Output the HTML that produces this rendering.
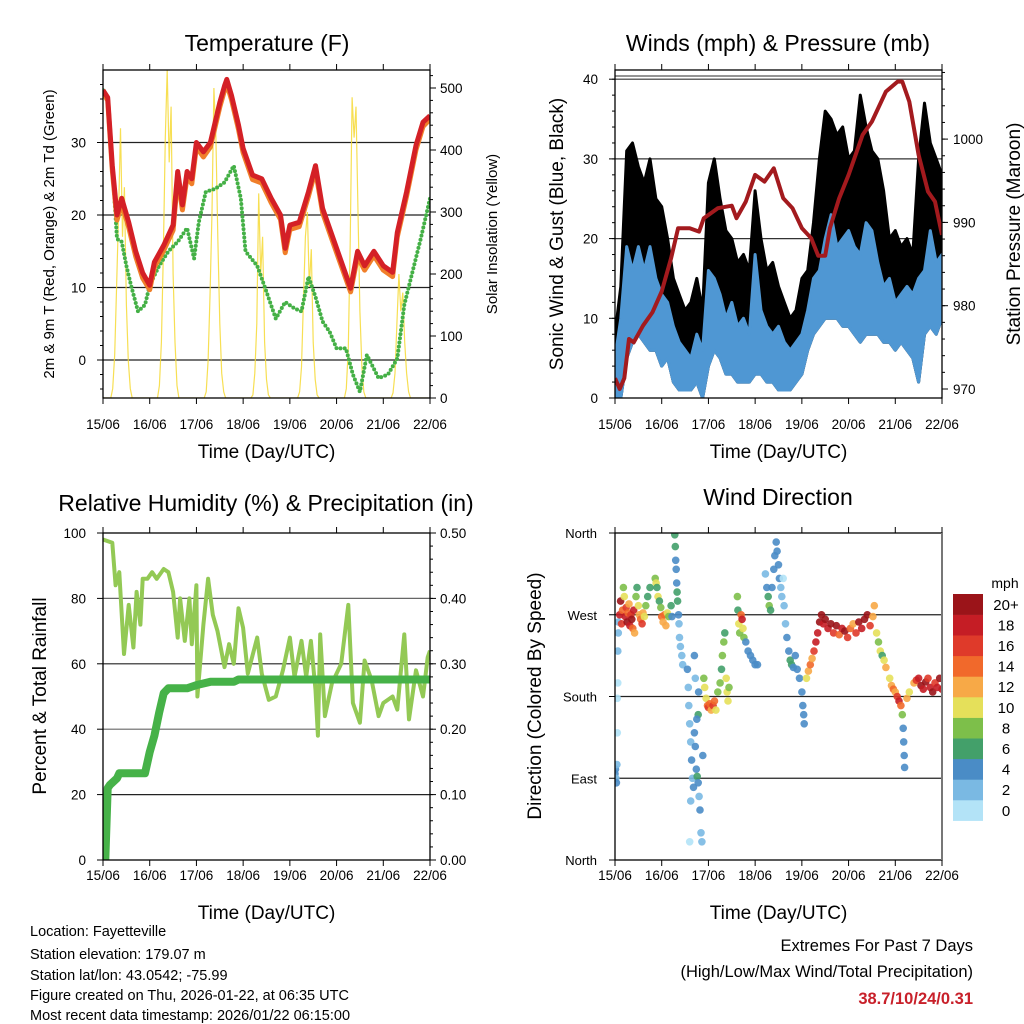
<!DOCTYPE html>
<html><head><meta charset="utf-8"><style>
html,body{margin:0;padding:0;background:#fff}
svg{display:block;font-family:"Liberation Sans",sans-serif}
</style></head><body>
<svg id="c" width="1024" height="1024" viewBox="0 0 1024 1024" xmlns="http://www.w3.org/2000/svg">
<defs>
<clipPath id="cp1"><rect x="103" y="70" width="327" height="328"/></clipPath>
<clipPath id="cp2"><rect x="615" y="70" width="327" height="328"/></clipPath>
<clipPath id="cp3"><rect x="103" y="533" width="327" height="327"/></clipPath>
<clipPath id="cp4"><rect x="615" y="533" width="327" height="327"/></clipPath>
</defs>
<rect width="1024" height="1024" fill="#fff"/>
<text x="267" y="51" font-size="23" text-anchor="middle">Temperature (F)</text>
<text x="778" y="51" font-size="23" text-anchor="middle">Winds (mph) &amp; Pressure (mb)</text>
<text x="266" y="511" font-size="23" text-anchor="middle">Relative Humidity (%) &amp; Precipitation (in)</text>
<text x="778" y="505" font-size="23" text-anchor="middle">Wind Direction</text>
<g id="g1"></g>
<g id="g2"></g>
<g id="g3"></g>
<g id="g4"></g>
<g font-size="14.5">
<text x="30" y="936">Location: Fayetteville</text>
<text x="30" y="959">Station elevation: 179.07 m</text>
<text x="30" y="980">Station lat/lon: 43.0542; -75.99</text>
<text x="30" y="1000">Figure created on Thu, 2026-01-22, at 06:35 UTC</text>
<text x="30" y="1020">Most recent data timestamp: 2026/01/22 06:15:00</text>
</g>
<g font-size="16.5" text-anchor="end">
<text x="973" y="951">Extremes For Past 7 Days</text>
<text x="973" y="977">(High/Low/Max Wind/Total Precipitation)</text>
<text x="973" y="1004" fill="#c8202a" font-weight="bold">38.7/10/24/0.31</text>
</g>
</svg>
<script>
// ---------- data ----------
const dayLabels=["15/06","16/06","17/06","18/06","19/06","20/06","21/06","22/06"];
const tempDays=[0,0.1,0.2,0.3,0.4,0.55,0.7,0.85,1.0,1.1,1.3,1.5,1.6,1.7,1.8,1.9,2.0,2.15,2.3,2.5,2.6,2.65,2.75,2.9,3.0,3.2,3.4,3.6,3.8,3.9,4.0,4.2,4.4,4.55,4.7,5.0,5.3,5.45,5.6,5.8,6.0,6.2,6.3,6.5,6.7,6.85,7.0];
const temp2m=[37.2,36.2,26.8,20,22.3,19,15,12,10.3,13.5,15.8,18.6,26,21.4,26,25,30,28.7,30,35.5,37.8,38.7,36.5,32.4,29.2,25.5,25,22.3,20,15.4,18.6,19,23.2,26.8,20.9,15.4,9.9,15,13,15,13,12.1,17.6,23.2,29.6,32.8,33.7];
const temp9m=[36.9,35.8,26.2,19.3,21.6,18.3,14.3,11.3,9.7,12.8,15.1,17.9,25.2,20.7,25.3,24.3,29.4,28,29.4,34.9,37.2,38.1,35.9,31.8,28.6,24.9,24.4,21.7,19.4,14.8,18,18.4,22.6,26.2,20.3,14.8,9.4,14.3,12.4,14.4,12.4,11.5,17,22.6,29,32.2,33.2];
const tdDays=[0,0.1,0.2,0.3,0.4,0.5,0.6,0.75,0.9,1.0,1.2,1.4,1.6,1.8,1.95,2.05,2.2,2.4,2.6,2.8,2.95,3.05,3.3,3.5,3.7,3.9,4.1,4.25,4.4,4.55,4.7,4.85,5.0,5.2,5.35,5.5,5.65,5.9,6.1,6.3,6.45,6.6,6.8,7.0];
const tdF=[37.2,36,26.8,16.7,16.3,13,10.3,6.7,7.6,10.3,13,15,16.3,18.2,14,19,23.2,23.6,24.5,26.8,22.3,15,13,9.4,5.7,8,7.1,6.7,11.5,8.7,5.3,3.9,1.6,1.6,-2,-4.4,0.7,-2.5,-2,0.2,7.6,11.5,16.7,22.3];
const solarDay0=[0,0,0,0,0,15,70,180,300,435,260,340,150,60,15,0,0,0,0,0,0,0,0,0];
const solarDay1=[0,0,0,0,0,20,90,230,420,529,380,470,200,90,20,0,0,0,0,0,0,0,0,0];
const solarDay2=[0,0,0,0,0,10,60,170,300,500,420,260,120,40,10,0,0,0,0,0,0,0,0,0];
const solarDay3=[0,0,0,0,0,5,40,120,330,200,260,90,30,5,0,0,0,0,0,0,0,0,0,0];
const solarDay4=[0,0,0,0,0,10,50,160,260,300,180,240,90,30,5,0,0,0,0,0,0,0,0,0];
const solarDay5=[0,0,0,0,0,15,80,250,485,420,470,300,140,50,10,0,0,0,0,0,0,0,0,0];
const solarDay6=[0,0,0,0,0,8,40,120,200,140,170,90,40,10,0,0,0,0,0,0,0,0,0,0];
const windDays=[0,0.125,0.25,0.375,0.5,0.625,0.75,0.875,1,1.125,1.25,1.375,1.5,1.625,1.75,1.875,2,2.125,2.25,2.375,2.5,2.625,2.75,2.875,3,3.125,3.25,3.375,3.5,3.625,3.75,3.875,4,4.125,4.25,4.375,4.5,4.625,4.75,4.875,5,5.125,5.25,5.375,5.5,5.625,5.75,5.875,6,6.125,6.25,6.375,6.5,6.625,6.75,6.875,7];
const windHi=[5,10,19,16,19,16,19,15,13,12,9,7,6,5,8,6,16,15,13,10,12,9,10,8,18,11,9,8,9,7,6,7,8,11,15,16,20,23,19,20,21,19,18,22,21,17,14,15,12,13,14,13,15,16,21,17,18];
const windLo=[0,0,5,7,8,7,6,6,4,5,2,1,1,1,2,0,4,6,5,3,3,2,2,2,3,3,2,2,1,1,1,2,3,6,8,9,10,10,10,9,9,8,7,8,8,8,7,7,6,7,6,5,2,8,9,8,10];
const gustHi=[8,14,31,32,29,27,30,25,24,20,15,13,11,12,15,11,27,30,25,21,20,17,18,16,26,20,16,17,14,12,10,11,15,16,22,30,36,35,33,34,30,31,38,34,31,30,26,20,21,19,20,18,30,37,32,30,28];
const presDays=[0,0.1,0.2,0.3,0.4,0.6,0.8,1.0,1.2,1.35,1.6,1.8,1.9,2.2,2.5,2.6,2.8,3.0,3.2,3.4,3.6,3.8,4.0,4.2,4.35,4.5,4.6,4.8,5.0,5.3,5.5,5.8,6.05,6.15,6.3,6.5,6.7,6.85,7.0];
const presMb=[971.3,970,971.3,976,975.6,977.6,979.2,981.7,985.7,989.3,989.3,988.9,990.5,991.7,992,990.5,992.5,995.7,994.9,996.5,992.9,991.7,989.3,988.1,986,986,989.3,992.9,995.7,1000.5,1002.1,1005.7,1006.9,1006.9,1004.5,998.1,993.7,992.5,988.5];
const rhDays=[0,0.2,0.27,0.35,0.45,0.55,0.65,0.72,0.8,0.85,0.95,1.05,1.15,1.3,1.4,1.5,1.6,1.65,1.75,1.85,1.9,2.0,2.02,2.15,2.25,2.35,2.45,2.6,2.7,2.8,2.9,3.0,3.1,3.3,3.4,3.55,3.7,3.85,4.0,4.1,4.25,4.35,4.45,4.55,4.6,4.65,4.75,4.9,5.1,5.25,5.35,5.5,5.6,5.75,5.9,6.0,6.2,6.3,6.45,6.55,6.7,6.85,6.95,7.0];
const rhPct=[98,97,84,88,63,78,65,82,72,86,86,88,86,89,88,82,68,80,67,80,66,84,50,72,86,75,70,59,66,60,77,71,57,68,57,49,50,58,68,56,67,56,67,52,38,69,44,54,60,78,48,42,61,55,44,48,50,46,69,43,58,50,62,64];
const precDays=[0,0.05,0.1,0.15,0.3,0.35,0.9,1.0,1.1,1.2,1.3,1.4,1.8,2.0,2.3,2.8,2.9,7.0];
const precIn=[0,0,0.11,0.115,0.125,0.1325,0.1325,0.165,0.19,0.225,0.255,0.2625,0.2625,0.2675,0.2725,0.2725,0.276,0.276];
const dirDays=[0,0.01,0.02,0.03,0.04,0.05,0.05,0.06,0.06,0.07,0.07,
0.10,0.12,0.14,0.16,0.18,0.20,0.22,0.24,0.26,0.28,0.30,0.32,0.34,0.36,0.38,0.40,0.42,0.45,0.47,0.50,0.52,0.55,0.58,0.60,0.63,0.66,0.70,0.75,
0.86,0.88,0.90,0.92,0.95,0.98,1.00,1.03,1.06,1.09,1.12,1.15,
1.28,1.29,1.30,1.31,1.32,1.33,1.34,1.36,1.37,1.38,1.40,1.43,1.45,1.20,1.22,
1.55,1.57,1.58,1.60,1.62,1.64,1.66,1.68,1.70,1.72,1.74,1.76,1.78,1.80,1.82,1.84,1.86,1.88,1.78,1.75,1.62,1.60,1.70,1.72,1.79,
1.90,1.92,1.95,1.98,2.00,2.03,2.06,2.10,2.13,2.16,2.20,2.25,2.28,2.30,2.33,2.35,2.38,2.40,2.42,2.44,
2.62,2.63,2.65,2.67,2.70,2.72,2.74,2.76,2.80,2.85,2.90,2.95,3.00,3.05,
3.22,3.25,3.28,3.30,3.33,3.36,3.40,3.42,3.45,3.47,3.50,3.52,3.55,3.57,3.60,3.62,3.65,3.68,
3.72,3.75,3.78,3.82,3.86,3.90,3.95,4.00,4.02,4.04,4.05,
4.10,4.14,4.18,4.22,4.26,4.30,4.34,4.38,4.42,4.46,
4.50,4.56,4.62,4.68,4.74,4.80,4.86,4.92,4.98,5.04,5.10,5.16,5.22,5.28,5.34,5.40,5.46,5.52,5.55,
5.60,5.64,5.68,5.72,5.76,5.80,
5.88,5.92,5.96,6.00,6.04,6.08,6.12,6.15,6.17,6.18,6.19,6.20,6.25,6.30,
6.40,6.45,6.50,6.55,6.60,6.65,6.70,6.75,6.80,6.85,6.90,6.95,7.00];
const dirDeg=[95,100,90,85,105,140,178,195,230,250,262,
270,285,260,275,300,290,268,278,262,272,282,258,270,265,255,275,250,290,300,280,270,265,260,272,268,280,290,300,
310,305,300,290,285,278,268,262,270,258,272,268,
358,345,330,320,305,295,285,270,260,245,235,225,215,280,268,
210,190,170,150,130,110,90,80,140,125,100,92,85,70,55,30,20,115,160,155,65,20,225,200,185,
200,190,178,170,168,172,165,170,175,165,185,195,210,225,240,250,200,185,175,190,
290,275,260,250,270,265,255,245,240,230,225,220,215,215,
315,300,290,280,275,300,320,335,350,340,325,310,300,290,310,280,260,245,
230,220,215,212,225,210,200,185,170,160,150,
200,208,215,222,230,240,250,262,270,260,
265,255,260,250,258,248,255,252,245,255,260,250,262,255,265,270,258,268,280,
250,240,230,225,220,212,
200,192,188,185,180,175,170,160,145,130,115,102,178,185,
195,198,200,192,188,196,200,190,185,195,190,200,188];
const dirSpd=[4,4,3,4,2,1,1,1,2,3,3,
18,20,16,14,8,10,18,16,20,14,12,18,16,20,14,18,12,8,6,10,12,14,16,12,10,8,6,6,
8,10,6,10,6,8,14,12,14,12,10,8,
6,6,4,4,4,6,6,4,2,2,2,2,2,6,4,
4,2,2,2,2,4,2,4,4,4,4,6,4,2,4,2,2,4,6,4,2,0,4,2,4,
8,10,10,14,16,14,12,16,14,10,8,8,6,8,8,6,10,10,10,8,
8,6,10,8,14,18,10,8,4,4,4,4,4,4,
2,4,6,8,6,4,4,4,4,4,4,4,2,2,0,2,2,4,
4,6,6,4,4,4,4,4,4,4,4,
10,12,14,12,16,18,18,20,20,18,
20,18,20,16,20,14,18,20,16,14,12,16,20,18,20,20,16,12,12,
10,8,10,6,10,12,
10,12,14,12,16,18,14,8,4,4,4,4,12,10,
12,16,18,20,18,20,16,18,20,16,18,20,18];
const speedTicks=["0","2","4","6","8","10","12","14","16","18","20+"];
const speedColors=["#b3e3f7","#7ab9e3","#4a8cc6","#43a06a","#7dbf4a","#e5e05a","#f7a947","#f1692b","#df3a2a","#c51d25","#9b1419"];

// ---------- helpers ----------
const NS="http://www.w3.org/2000/svg";
function mk(parent,tag,attrs){const e=document.createElementNS(NS,tag);for(const k in attrs)e.setAttribute(k,attrs[k]);parent.appendChild(e);return e;}
function txt(parent,x,y,s,size,anchor,rot){const t=mk(parent,"text",{x:x,y:y,"font-size":size,"text-anchor":anchor||"middle"});if(rot)t.setAttribute("transform","rotate(-90 "+x+" "+y+")");t.textContent=s;return t;}
const W=327,H=328,DAY=W/7;
function linePath(xs,ys,fx,fy){return xs.map((d,i)=>(i?"L":"M")+fx(d).toFixed(1)+" "+fy(ys[i]).toFixed(1)).join(" ");}
function bandPath(xs,hi,lo,fx,fy){
  let s="M"+xs.map((d,i)=>fx(d).toFixed(1)+" "+fy(hi[i]).toFixed(1)).join(" L");
  for(let i=xs.length-1;i>=0;i--)s+=" L"+fx(xs[i]).toFixed(1)+" "+fy(lo[i]).toFixed(1);
  return s+"Z";
}
function frame(g,x0,y0,h,lblOff,titleOff){
  for(let d=0;d<=7;d++){const x=x0+d*DAY;
    mk(g,"line",{x1:x,y1:y0+h,x2:x,y2:y0+h+6,stroke:"#000","stroke-width":1});
    mk(g,"line",{x1:x,y1:y0,x2:x,y2:y0-6,stroke:"#000","stroke-width":1});
    const t=txt(g,x,y0+h+lblOff,dayLabels[d],13.5);
    
    
  }
  const xt=txt(g,x0+W/2,y0+h+titleOff,"Time (Day/UTC)",19);
  
  
}
function box(g,x0,y0,h){const r=mk(g,"rect",{x:x0,y:y0,width:W,height:h,fill:"none",stroke:"#000","stroke-width":1.3});
  }
function grid(g,x0,y,col){mk(g,"line",{x1:x0,y1:y,x2:x0+W,y2:y,stroke:col||"#222","stroke-width":1.2});}

// ---------- panel 1: temperature ----------
(function(){
  const g=document.getElementById("g1"),x0=103,y0=70;
  const fx=d=>x0+d*DAY, fy=v=>360-v*7.25, fs=s=>398-s*0.62;
  [0,10,20,30].forEach(v=>{grid(g,x0,fy(v));mk(g,"line",{x1:x0,y1:fy(v),x2:x0-6,y2:fy(v),stroke:"#000"});
    const t=txt(g,86,fy(v)+5,String(v),13.5,"end");});
  for(let v=-4;v<=38;v+=2){mk(g,"line",{x1:x0,y1:fy(v),x2:x0-3,y2:fy(v),stroke:"#000"});}
  [0,100,200,300,400,500].forEach(s=>{mk(g,"line",{x1:x0+W,y1:fs(s),x2:x0+W+6,y2:fs(s),stroke:"#000"});
    const t=txt(g,440,fs(s)+5,String(s),13.5,"start");});
  for(let s=20;s<=520;s+=20){mk(g,"line",{x1:x0+W,y1:fs(s),x2:x0+W+3,y2:fs(s),stroke:"#000"});}
  const c=mk(g,"g",{"clip-path":"url(#cp1)"});
  const solar=[].concat(solarDay0,solarDay1,solarDay2,solarDay3,solarDay4,solarDay5,solarDay6);
  const sDays=solar.map((v,i)=>i/24);
  const sp=mk(c,"path",{d:linePath(sDays,solar,fx,fs),fill:"none",stroke:"#f6d935","stroke-width":1.2,"stroke-opacity":0.85});
  
  const tp=mk(c,"path",{d:linePath(tdDays,tdF,fx,fy),fill:"none",stroke:"#44b046","stroke-width":4,"stroke-dasharray":"0 4.2","stroke-linecap":"round"});
  
  const op=mk(c,"path",{d:linePath(tempDays,temp9m,fx,fy),fill:"none",stroke:"#f07f2a","stroke-width":5,"stroke-linejoin":"round"});
  
  const rp=mk(c,"path",{d:linePath(tempDays,temp2m,fx,fy),fill:"none",stroke:"#d42026","stroke-width":5,"stroke-linejoin":"round"});
  
  box(g,x0,y0,H);frame(g,x0,y0,H,31,60);
  const l=txt(g,54,234,"2m & 9m T (Red, Orange) & 2m Td (Green)",15,"middle",true);
  const r=txt(g,497,234,"Solar Insolation (Yellow)",15,"middle",true);
})();

// ---------- panel 2: winds ----------
(function(){
  const g=document.getElementById("g2"),x0=615,y0=70;
  const fx=d=>x0+d*DAY, fy=v=>398-v*7.97, fp=p=>389-(p-970)*8.33;
  mk(g,"line",{x1:x0,y1:76,x2:x0+W,y2:76,stroke:"#555","stroke-width":1.2});
  [0,10,20,30,40].forEach(v=>{if(v)grid(g,x0,fy(v),"#333");mk(g,"line",{x1:x0,y1:fy(v),x2:x0-6,y2:fy(v),stroke:"#000"});
    const t=txt(g,598,fy(v)+5,String(v),13.5,"end");});
  for(let v=2;v<=40;v+=2){mk(g,"line",{x1:x0,y1:fy(v),x2:x0-3,y2:fy(v),stroke:"#000"});}
  [970,980,990,1000].forEach(p=>{mk(g,"line",{x1:x0+W,y1:fp(p),x2:x0+W+6,y2:fp(p),stroke:"#000"});
    const t=txt(g,953,fp(p)+5,String(p),13.5,"start");});
  for(let p=970;p<=1008;p+=2){mk(g,"line",{x1:x0+W,y1:fp(p),x2:x0+W+3,y2:fp(p),stroke:"#000"});}
  const c=mk(g,"g",{"clip-path":"url(#cp2)"});
  const gb=mk(c,"path",{d:bandPath(windDays,gustHi,windLo,fx,fy),fill:"#000",stroke:"#000","stroke-width":3,"stroke-linejoin":"round"});
  
  const wb=mk(c,"path",{d:bandPath(windDays,windHi,windLo,fx,fy),fill:"#4f97d3",stroke:"#4f97d3","stroke-width":3,"stroke-linejoin":"round"});
  
  const pp=mk(c,"path",{d:linePath(presDays,presMb,fx,fp),fill:"none",stroke:"#a31a1e","stroke-width":4,"stroke-linejoin":"round"});
  
  box(g,x0,y0,H);frame(g,x0,y0,H,31,60);
  const l=txt(g,563,234,"Sonic Wind & Gust (Blue, Black)",19,"middle",true);
  const r=txt(g,1020,234,"Station Pressure (Maroon)",19,"middle",true);
})();

// ---------- panel 3: humidity ----------
(function(){
  const g=document.getElementById("g3"),x0=103,y0=533,h=327;
  const fx=d=>x0+d*DAY, fy=v=>860-v*3.27, fr=i=>860-i*654;
  [20,40,60,80].forEach(v=>grid(g,x0,fy(v),v%40?"#222":"#666"));
  [0,20,40,60,80,100].forEach(v=>{mk(g,"line",{x1:x0,y1:fy(v),x2:x0-6,y2:fy(v),stroke:"#000"});
    const t=txt(g,86,fy(v)+5,String(v),13.5,"end");});
  ["0.00","0.10","0.20","0.30","0.40","0.50"].forEach((s,i)=>{const y=fr(i*0.1);mk(g,"line",{x1:x0+W,y1:y,x2:x0+W+6,y2:y,stroke:"#000"});
    const t=txt(g,440,y+5,s,13.5,"start");});
  for(let i=1;i<=25;i++){const y=fr(i*0.02);mk(g,"line",{x1:x0+W,y1:y,x2:x0+W+3,y2:y,stroke:"#000"});}
  const c=mk(g,"g",{"clip-path":"url(#cp3)"});
  const rp=mk(c,"path",{d:linePath(rhDays,rhPct,fx,fy),fill:"none",stroke:"#93c955","stroke-width":4,"stroke-linejoin":"round"});
  
  const pp=mk(c,"path",{d:linePath(precDays,precIn,fx,fr),fill:"none",stroke:"#46b248","stroke-width":8,"stroke-linejoin":"round"});
  
  box(g,x0,y0,h);frame(g,x0,y0,h,20,59);
  const l=txt(g,46,696,"Percent & Total Rainfall",19,"middle",true);
})();

// ---------- panel 4: wind direction ----------
(function(){
  const g=document.getElementById("g4"),x0=615,y0=533,h=327;
  const fx=d=>x0+d*DAY, fy=v=>860-v*0.9083;
  const dirNames=["North","East","South","West","North"];
  [0,90,180,270,360].forEach((v,i)=>{if(v%360)grid(g,x0,fy(v),"#222");mk(g,"line",{x1:x0,y1:fy(v),x2:x0-6,y2:fy(v),stroke:"#000"});
    const t=txt(g,597,fy(v)+5,dirNames[i],13,"end");});
  const c=mk(g,"g",{"clip-path":"url(#cp4)"});
  dirDays.forEach((d,i)=>{
    const k=Math.min(10,Math.floor(dirSpd[i]/2));
    const p=mk(c,"circle",{cx:fx(d).toFixed(1),cy:fy(dirDeg[i]).toFixed(1),r:3.8,fill:speedColors[k],"fill-opacity":0.9});
    
    
  });
  box(g,x0,y0,h);frame(g,x0,y0,h,20,59);
  mk(g,"line",{x1:x0+W,y1:y0,x2:x0+W,y2:y0+h,stroke:"#777","stroke-width":2});
  const l=txt(g,541,696,"Direction (Colored By Speed)",19,"middle",true);
  const cb=mk(g,"g",{});
  
  txt(cb,1005,588,"mph",14,"middle");
  const bh=20.6,top=594;
  speedTicks.forEach((s,i)=>{const j=10-i;const y=top+j*bh;
    const r=mk(cb,"rect",{x:953,y:y,width:30,height:bh+0.3,fill:speedColors[i]});
    
    const t=txt(cb,1006,y+bh/2+5.5,s,15,"middle");});
})();
</script>
</body></html>
